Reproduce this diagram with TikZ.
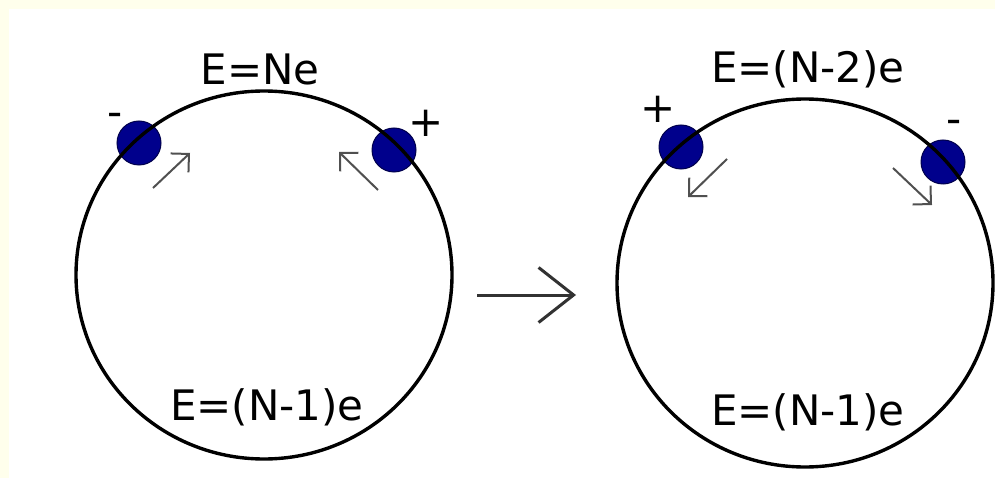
\documentclass[tikz,border=0pt]{standalone}
\usepackage{fontspec}
\setmainfont{DejaVu Sans}
\usetikzlibrary{shapes.geometric, arrows.meta, positioning}
\definecolor{bgcolor}{RGB}{255,255,236}
\definecolor{electroncolor}{RGB}{0,0,140}
\definecolor{movecolor}{RGB}{80,80,80}
\definecolor{stepcolor}{RGB}{50,50,50}

\begin{document}
\begin{tikzpicture}[x=1pt, y=-1pt,
    ring/.style={ellipse, draw, line width=3.4pt, minimum width=376pt, minimum height=368pt, inner sep=0pt},
    electron/.style={circle, draw=black!70!blue, line width=1pt, fill=electroncolor, minimum size=44pt, inner sep=0pt},
    charge/.style={font=\fontsize{42}{48}\selectfont, anchor=base, inner sep=0pt},
    energy/.style={font=\fontsize{42}{48}\selectfont, anchor=base, inner sep=0pt},
    move/.style={-{Straight Barb[length=13pt, width=26pt]}, line width=2pt, draw=movecolor},
    arrow/.style={-{Straight Barb[length=35pt, width=55pt]}, line width=3pt, draw=stepcolor}
]
\fill[bgcolor] (0,0) rectangle (995,478);
\fill[white] (9,9) rectangle (995,478);

\node[electron] (eminus1) at (139,143) {};
\node[electron] (eplus1) at (394,150) {};
\node[electron] (eplus2) at (681,147) {};
\node[electron] (eminus2) at (943,162) {};

\node[ring] (before) at (264,275) {};
\node[ring] (after) at (805,283) {};

\node[charge] (qminus1) at (115,127) {-};
\node[charge] (qplus1) at (426,137) {+};
\node[charge] (qplus2) at (658,123) {+};
\node[charge] (qminus2) at (954,134) {-};

\node[energy] (top1) at (260,85) {E=Ne};
\node[energy] (bottom1) at (267,420) {E=(N-1)e};
\node[energy] (top2) at (808,83) {E=(N-2)e};
\node[energy] (bottom2) at (808,425) {E=(N-1)e};

\coordinate (m1a) at (153,188);
\coordinate (m1b) at (190,153);
\coordinate (m2a) at (378,190);
\coordinate (m2b) at (339,152);
\coordinate (m3a) at (727,159);
\coordinate (m3b) at (688,197);
\coordinate (m4a) at (893,168);
\coordinate (m4b) at (932,205);
\draw[move] (m1a) -- (m1b);
\draw[move] (m2a) -- (m2b);
\draw[move] (m3a) -- (m3b);
\draw[move] (m4a) -- (m4b);

\coordinate (s1) at (477,295);
\coordinate (s2) at (576,295);
\draw[arrow] (s1) -- (s2);
\end{tikzpicture}
\end{document}
